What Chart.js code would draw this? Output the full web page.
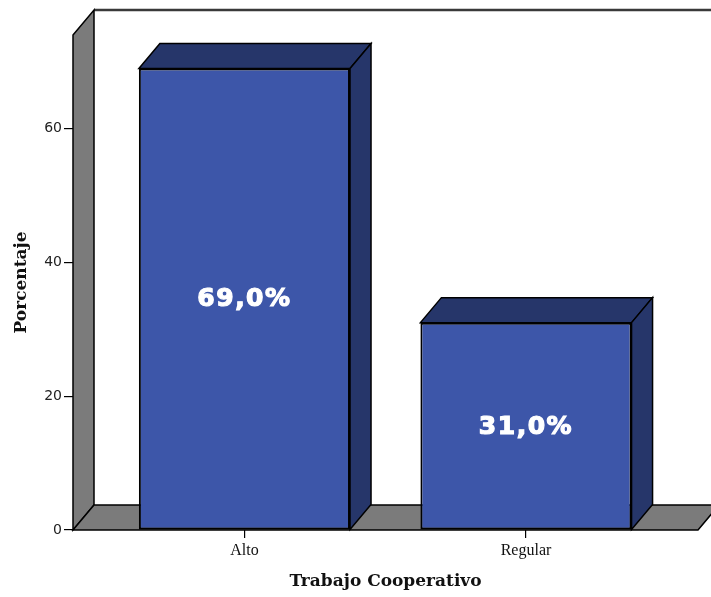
<!DOCTYPE html>
<html>
<head>
<meta charset="utf-8">
<script src="https://cdn.jsdelivr.net/npm/chart.js@4/dist/chart.umd.min.js"></script>
<style>
  html, body { margin: 0; padding: 0; background: #fff; }
  #wrap { width: 711px; height: 597px; }
</style>
</head>
<body>
<div id="wrap"><canvas id="cht" width="711" height="597"></canvas></div>
<script>
// data
var categories = ['Alto', 'Regular'];
var percents = [69.0, 31.0];
var yTicks = [0, 20, 40, 60];

// 3d look
var depthX = 21, depthY = -25;
var frontColor = '#3d56a9', darkColor = '#26366a', wallColor = '#7b7b7b';

function poly(ctx, pts, fill) {
    ctx.beginPath();
    ctx.moveTo(pts[0][0], pts[0][1]);
    for (var i = 1; i < pts.length; i++) ctx.lineTo(pts[i][0], pts[i][1]);
    ctx.closePath();
    if (fill) { ctx.fillStyle = fill; ctx.fill(); }
    ctx.stroke();
}

var box3d = {
    id: 'box3d',
    beforeDatasetsDraw: function(chart) {
        var ctx = chart.ctx, a = chart.chartArea;
        var y0 = chart.scales.y.getPixelForValue(0);
        ctx.save();
        ctx.lineJoin = 'miter';
        // back plane top edge
        ctx.strokeStyle = '#3a3a3a';
        ctx.lineWidth = 2.5;
        ctx.beginPath();
        ctx.moveTo(a.left + depthX, a.top + depthY);
        ctx.lineTo(a.right + depthX, a.top + depthY);
        ctx.stroke();
        ctx.strokeStyle = '#000';
        ctx.lineWidth = 1.5;
        // left wall
        poly(ctx, [[a.left, a.top], [a.left + depthX, a.top + depthY],
                   [a.left + depthX, y0 + depthY], [a.left, y0]], wallColor);
        // floor
        poly(ctx, [[a.left, y0], [a.left + depthX, y0 + depthY],
                   [a.right + depthX, y0 + depthY], [a.right, y0]], wallColor);
        ctx.restore();
    },
    afterDatasetsDraw: function(chart) {
        var ctx = chart.ctx;
        var meta = chart.getDatasetMeta(0);
        ctx.save();
        ctx.strokeStyle = '#000';
        ctx.lineWidth = 1.5;
        meta.data.forEach(function(bar, i) {
            var x1 = bar.x - bar.width / 2, x2 = bar.x + bar.width / 2;
            var top = bar.y, base = bar.base;
            ctx.strokeStyle = '#000';
            ctx.lineWidth = 1.5;
            poly(ctx, [[x1, top], [x1 + depthX, top + depthY],
                       [x2 + depthX, top + depthY], [x2, top]], darkColor);
            poly(ctx, [[x2, top], [x2 + depthX, top + depthY],
                       [x2 + depthX, base + depthY], [x2, base]], darkColor);
            // value label
            var txt = percents[i].toFixed(1).replace('.', ',') + '%';
            ctx.fillStyle = '#fff';
            ctx.strokeStyle = '#fff';
            ctx.lineWidth = 1.2;
            ctx.font = 'bold 25px "DejaVu Sans"';
            ctx.letterSpacing = '1.5px';
            ctx.textAlign = 'center';
            ctx.textBaseline = 'middle';
            ctx.fillText(txt, bar.x, (top + base) / 2 + 1);
            ctx.strokeText(txt, bar.x, (top + base) / 2 + 1);
        });
        ctx.restore();
    }
};

new Chart(document.getElementById('cht').getContext('2d'), {
    type: 'bar',
    data: {
        datasets: [{
            data: percents.map(function(v, i) { return {x: i, y: v}; }),
            backgroundColor: frontColor,
            borderColor: '#000',
            borderWidth: 2,
            borderSkipped: false,
            barPercentage: 0.75,
            categoryPercentage: 1
        }]
    },
    options: {
        responsive: false,
        animation: false,
        layout: { padding: { top: 35, right: 13, left: 0, bottom: 0 } },
        plugins: { legend: { display: false }, tooltip: { enabled: false } },
        scales: {
            x: {
                type: 'linear',
                offset: false,
                min: -0.609,
                max: 1.611,
                afterBuildTicks: function(s) { s.ticks = categories.map(function(c, i) { return {value: i}; }); },
                afterFit: function(s) { s.height = 67; },
                border: { display: false },
                grid: { display: true, offset: false, drawOnChartArea: false, drawTicks: true, tickLength: 8, color: '#000', lineWidth: 1.2 },
                ticks: {
                    padding: 3,
                    color: '#111',
                    font: { family: '"Liberation Serif"', size: 16 },
                    maxRotation: 0,
                    callback: function(v) { return categories[v]; }
                },
                title: {
                    display: true,
                    text: 'Trabajo Cooperativo',
                    color: '#111',
                    font: { family: '"DejaVu Serif"', size: 17, weight: 'bold' },
                    padding: { top: 0, bottom: 5 }
                }
            },
            y: {
                min: 0,
                max: 74,
                afterBuildTicks: function(s) { s.ticks = yTicks.map(function(v) { return {value: v}; }); },
                afterFit: function(s) { s.width = 73; },
                border: { display: false },
                grid: { drawOnChartArea: false, drawTicks: true, tickLength: 9, color: '#000', lineWidth: 1.2 },
                ticks: {
                    padding: 2,
                    color: '#222',
                    font: { family: '"DejaVu Sans"', size: 14 }
                },
                title: {
                    display: true,
                    text: 'Porcentaje',
                    color: '#111',
                    font: { family: '"DejaVu Serif"', size: 17, weight: 'bold' },
                    padding: { top: 11, bottom: 0 }
                }
            }
        }
    },
    plugins: [box3d]
});
</script>
</body>
</html>
